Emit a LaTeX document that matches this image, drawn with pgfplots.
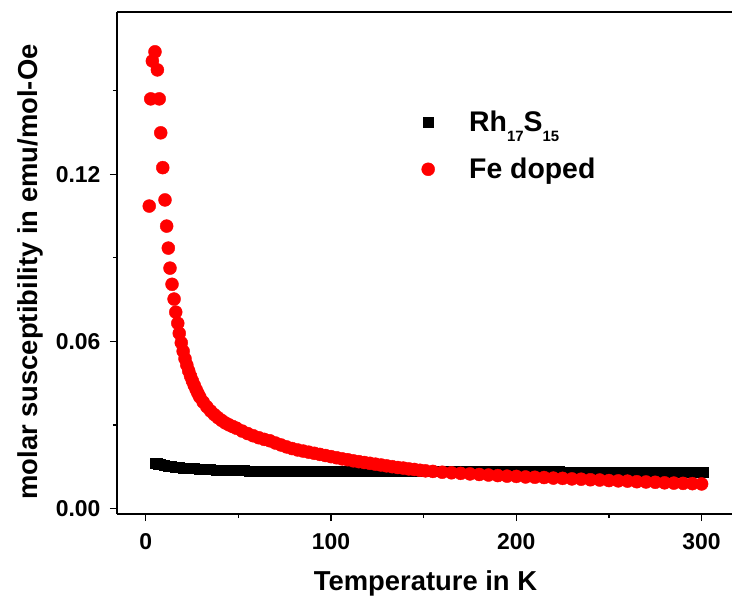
\documentclass[border=0pt]{standalone}
\usepackage{fontspec}
\setmainfont{Liberation Sans}
\usepackage{pgfplots}
\pgfplotsset{compat=1.18}
\pgfplotsset{mylegimg/.style={legend image code/.code={\path[draw=none,fill=none] (0bp,0bp) rectangle (47bp,0.1bp);\draw[mark repeat=2,mark phase=2,##1] plot coordinates {(0bp,0bp) (8bp,0bp) (16bp,0bp)};}}}
\pgfplotstableread{
T chi
5 0.0163
6 0.0162
7 0.0160
8 0.0158
10 0.0155
12 0.0152
14 0.0150
16 0.0148
18 0.0147
20 0.0146
23 0.0144
26 0.0143
29 0.0142
32 0.0141
35 0.0140
38 0.0139
41 0.0138
44 0.0137
47 0.0137
50 0.0136
53 0.0136
56 0.0135
59 0.0135
63 0.0135
67 0.0134
71 0.0134
75 0.0134
79 0.0134
83 0.0134
87 0.0134
91 0.0134
95 0.0134
99 0.0134
103 0.0134
107 0.0134
111 0.0133
115 0.0133
119 0.0133
123 0.0133
127 0.0133
131 0.0133
135 0.0133
139 0.0133
143 0.0133
147 0.0133
151 0.0133
155 0.0133
159 0.0133
163 0.0133
167 0.0133
171 0.0133
175 0.0132
179 0.0132
183 0.0132
187 0.0132
191 0.0132
195 0.0132
199 0.0132
203 0.0132
207 0.0132
211 0.0132
215 0.0132
219 0.0132
223 0.0132
227 0.0131
231 0.0131
235 0.0131
239 0.0131
243 0.0131
247 0.0131
251 0.0131
255 0.0131
259 0.0131
263 0.0131
267 0.0130
271 0.0130
275 0.0130
279 0.0130
283 0.0130
287 0.0130
291 0.0130
295 0.0130
299 0.0130
301 0.0129
}\rhdata
\pgfplotstableread{
T chi
1.9 0.1086
2.7 0.1471
3.6 0.1607
5.0 0.1640
6.3 0.1575
7.3 0.1471
8.1 0.1349
9.2 0.1224
10.4 0.1108
11.3 0.1014
12.2 0.0935
13.1 0.0863
14.2 0.0805
15.3 0.0752
16.2 0.0705
17.3 0.0665
18.1 0.0629
19.2 0.0595
20.2 0.0565
21.2 0.0538
22.2 0.0515
23.2 0.0494
24.2 0.0475
25.2 0.0458
26.2 0.0442
27.2 0.0427
28.2 0.0413
29.2 0.0400
31 0.0382
33 0.0365
35 0.0350
37 0.0337
39 0.0326
41 0.0316
43 0.0307
45 0.0300
47 0.0294
49 0.0288
52 0.0278
55 0.0269
58 0.0261
61 0.0254
64 0.0248
67 0.0243
70 0.0235
73 0.0228
76 0.0221
79 0.0215
82 0.0210
85 0.0206
88 0.0202
91 0.0198
94 0.0194
97 0.0190
100 0.0186
103 0.0182
106 0.0178
109 0.0175
112 0.0171
115 0.0168
118 0.0165
121 0.0162
124 0.0159
127 0.0156
130 0.0153
133 0.0150
136 0.0147
139 0.0145
142 0.0142
145 0.0140
148 0.0137
151 0.0135
155 0.0133
160 0.0130
165 0.0128
170 0.0126
175 0.0124
180 0.0122
185 0.0120
190 0.0118
195 0.0116
200 0.0115
205 0.0113
210 0.0112
215 0.0111
220 0.0109
225 0.0108
230 0.0106
235 0.0105
240 0.0103
245 0.0102
250 0.0100
255 0.0099
260 0.0098
265 0.0096
270 0.0095
275 0.0094
280 0.0092
285 0.0091
290 0.0090
295 0.0089
300 0.0088
}\fedata
\begin{document}
\begin{tikzpicture}
\begin{axis}[
  scale only axis, width=620bp, height=502bp,
  xmin=-15.5, xmax=319.1, ymin=-0.002, ymax=0.1783,
  separate axis lines,
  axis x line=box, axis y line=left,
  x axis line style={-}, y axis line style={-},
  xtick pos=left, ytick pos=left,
  tick align=outside,
  major tick length=7bp, minor tick length=4bp,
  xtick={0,100,200,300}, minor xtick={50,150,250},
  ytick={0,0.06,0.12}, minor ytick={0.03,0.09,0.15},
  scaled y ticks=false,
  yticklabel style={/pgf/number format/fixed, /pgf/number format/fixed zerofill, /pgf/number format/precision=2, xshift=-6bp},
  /pgf/number format/assume math mode=true,
  tick label style={font=\fontsize{23}{23}\selectfont\bfseries},
  xticklabel style={yshift=-9bp},
  every tick/.style={black, line width=1.2bp},
  axis line style={line width=1.2bp},
  xlabel={Temperature in K},
  ylabel={molar susceptibility in emu/mol-Oe},
  xlabel style={font=\fontsize{27.5}{27.5}\selectfont\bfseries, at={(axis description cs:0,0)}, anchor=center, xshift=308.5bp, yshift=-69bp},
  ylabel style={font=\fontsize{27.5}{27.5}\selectfont\bfseries, at={([xshift=-87bp]axis description cs:0,0.482)}, anchor=center},
  legend style={draw=none, fill=none, at={(axis description cs:0,1)}, anchor=north west, xshift=300bp, yshift=-95bp,
    font=\fontsize{28.5}{28.5}\selectfont\bfseries, row sep=21bp},
  legend cell align=left,
]
\addplot[only marks, mark=square*, mark size=5bp, black, mylegimg] table[x=T,y=chi] {\rhdata};
\addlegendentry{Rh\raisebox{-10bp}{\fontsize{15}{15}\selectfont 17}S\raisebox{-10bp}{\fontsize{15}{15}\selectfont 15}}
\addplot[only marks, mark=*, mark size=6.5bp, red, mark options={draw=red, fill=red}, mylegimg] table[x=T,y=chi] {\fedata};
\addlegendentry{Fe doped}
\end{axis}
\pgfresetboundingbox
\path (current axis.south west) ++(-117bp,-87bp) rectangle ++(732bp,601bp);
\end{tikzpicture}
\end{document}
